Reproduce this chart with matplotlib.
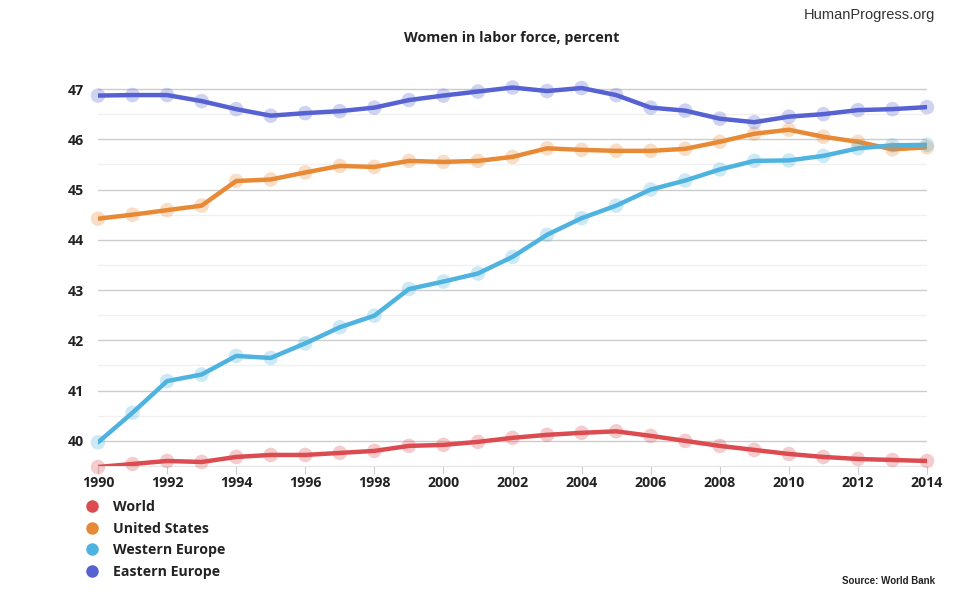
import matplotlib
matplotlib.use("Agg")
import matplotlib.pyplot as plt
from matplotlib.lines import Line2D

years = list(range(1990, 2015))
world = [39.48, 39.54, 39.60, 39.58, 39.68, 39.72, 39.72, 39.76, 39.80, 39.90,
         39.92, 39.98, 40.06, 40.12, 40.16, 40.19, 40.10, 40.00, 39.90, 39.82,
         39.74, 39.68, 39.64, 39.62, 39.60]
united_states = [44.42, 44.50, 44.59, 44.68, 45.17, 45.20, 45.34, 45.47, 45.45, 45.57,
                 45.55, 45.57, 45.65, 45.82, 45.79, 45.77, 45.77, 45.81, 45.95, 46.11,
                 46.19, 46.05, 45.95, 45.80, 45.84]
western_europe = [39.97, 40.56, 41.19, 41.32, 41.69, 41.65, 41.94, 42.26, 42.49, 43.02,
                  43.17, 43.33, 43.66, 44.10, 44.43, 44.68, 45.00, 45.18, 45.40, 45.57,
                  45.58, 45.67, 45.82, 45.88, 45.89]
eastern_europe = [46.87, 46.88, 46.88, 46.76, 46.60, 46.47, 46.52, 46.56, 46.63, 46.78,
                  46.87, 46.95, 47.03, 46.96, 47.02, 46.88, 46.63, 46.57, 46.41, 46.34,
                  46.45, 46.50, 46.58, 46.60, 46.64]
series_names = ["World", "United States", "Western Europe", "Eastern Europe"]
series_values = [world, united_states, western_europe, eastern_europe]
colors = ["#dc4b4f", "#e88a35", "#4fb3e0", "#5661d2"]
y_ticks = [40, 41, 42, 43, 44, 45, 46, 47]
x_ticks = list(range(1990, 2015, 2))

fig = plt.figure(figsize=(9.7, 6.0), dpi=100)
ax = fig.add_axes([98 / 970, 1 - 466 / 600, (927 - 98) / 970, 382 / 600])

for name, vals, c in zip(series_names, series_values, colors):
    ax.plot(years, vals, color=c, lw=3.2, solid_capstyle="round", zorder=3)
    ax.scatter(years, vals, s=110, color=c, alpha=0.28, edgecolors="none",
               zorder=4, clip_on=False)

ax.set_xlim(1990, 2014)
ax.set_ylim(39.5, 47.1)
ax.set_yticks(y_ticks)
ax.set_yticks([v + 0.5 for v in y_ticks[:-1]] + [39.5], minor=True)
ax.set_xticks(x_ticks)
ax.grid(axis="y", which="major", color="#cccccc", lw=1.0, zorder=0)
ax.grid(axis="y", which="minor", color="#f0f0f0", lw=1.0, zorder=0)
for s in ["top", "right", "left"]:
    ax.spines[s].set_visible(False)
ax.spines["bottom"].set_color("#e6e6e6")
ax.tick_params(axis="y", which="both", length=0, pad=10)
ax.tick_params(axis="x", which="major", length=6, color="#cccccc", pad=1)
ax.tick_params(axis="x", which="minor", length=0)
for lab in ax.get_xticklabels() + ax.get_yticklabels():
    lab.set_fontfamily("Open Sans")
    lab.set_fontweight("bold")
    lab.set_fontsize(10.2)
    lab.set_color("#222222")

fig.text(512 / 970, 1 - 38 / 600, "Women in labor force, percent", ha="center",
         va="center", fontsize=10.3, fontweight="bold", family="Open Sans", color="#222222")
fig.text(935 / 970, 1 - 15 / 600, "HumanProgress.org", ha="right", va="center",
         fontsize=10.5, family="Liberation Sans", color="#333333")
fig.text(935 / 970, 1 - 581 / 600, "Source: World Bank", ha="right", va="center",
         fontsize=7, fontweight="bold", family="Liberation Sans", color="#222222")

handles = [Line2D([0], [0], marker="o", ls="none", markersize=9, markerfacecolor=c,
                  markeredgecolor="none") for c in colors]
leg = fig.legend(handles, series_names, loc="upper left",
                 bbox_to_anchor=(85 / 970, 1 - 500 / 600), frameon=False,
                 prop={"family": "Open Sans", "weight": "bold", "size": 10.2},
                 handletextpad=1.0, labelspacing=0.53, handlelength=1.0,
                 borderaxespad=0, borderpad=0)
for t in leg.get_texts():
    t.set_color("#222222")

fig.savefig("out.png", dpi=100, facecolor="white")
